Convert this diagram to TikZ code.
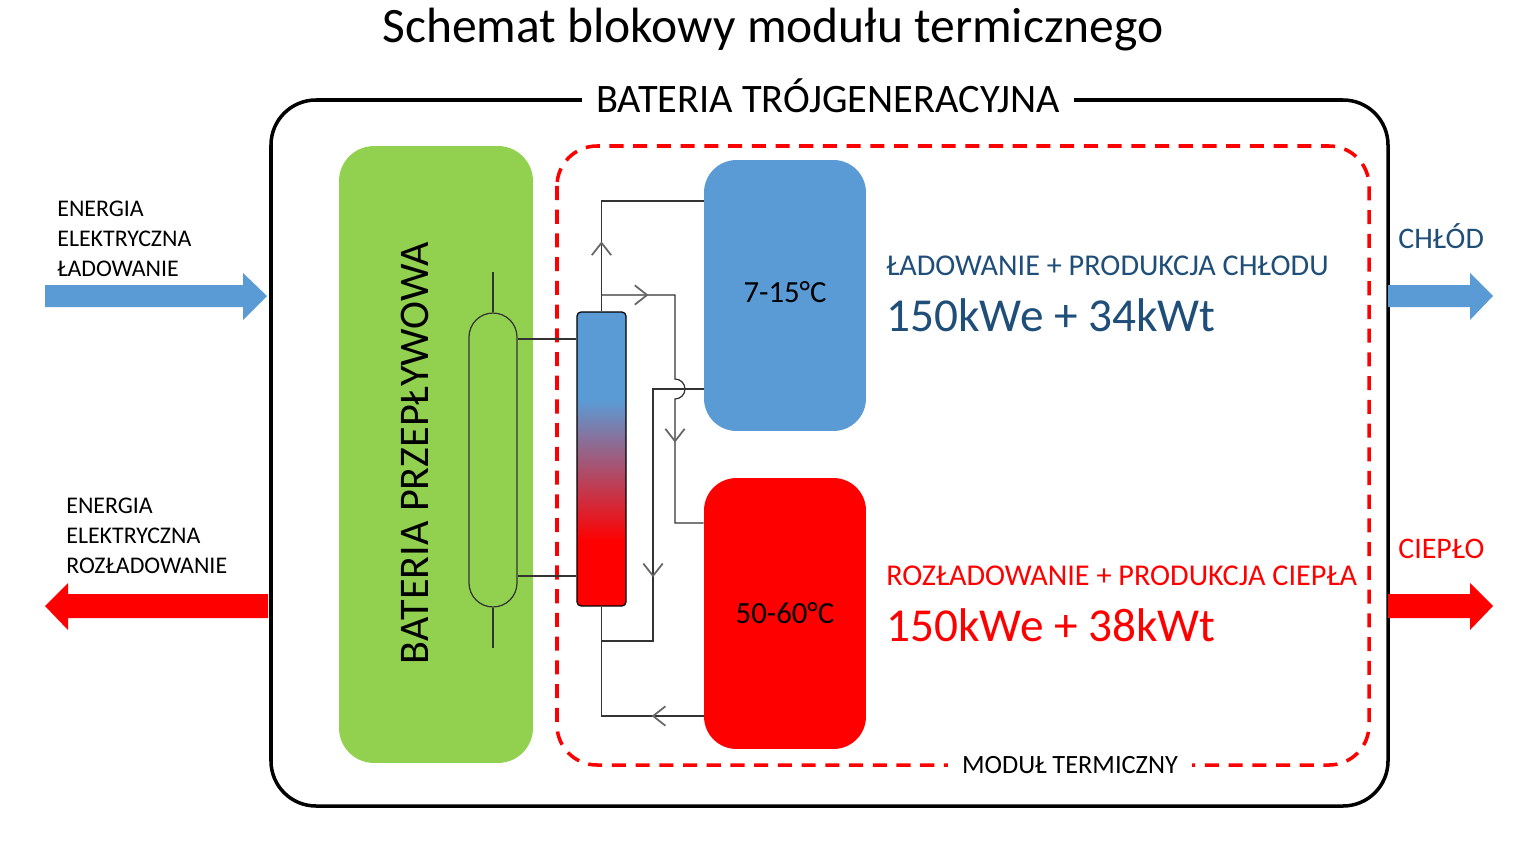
\documentclass[tikz,border=0pt]{standalone}
\usepackage{fontspec}
\setmainfont{Carlito}
\usetikzlibrary{arrows.meta,decorations.markings}

\definecolor{coldblue}{HTML}{5B9BD5}
\definecolor{hotred}{HTML}{FF0000}
\definecolor{flowgreen}{HTML}{92D050}
\definecolor{textblue}{HTML}{1F4E79}

\pgfdeclareverticalshading{hxshade}{100bp}{color(0bp)=(hotred); color(36bp)=(hotred); color(60bp)=(coldblue); color(100bp)=(coldblue)}

\tikzset{
  tank/.style={fill=#1, rounded corners=0.65cm, minimum width=3.24cm, minimum height=5.42cm, font=\fontsize{17.5}{20}\selectfont},
  pipe/.style={draw=black!80, line width=0.7pt},
  flow/.style={postaction={decorate, decoration={markings, mark=at position #1 with {\arrow[black!60, line width=1pt]{Straight Barb[length=7pt,width=11pt]}}}}},
  caption/.style={anchor=base west, inner sep=0pt},
}

\begin{document}
\begin{tikzpicture}[x=0.02cm, y=-0.02cm]
\useasboundingbox (0,0) rectangle (1535,845);

% Title
\node[anchor=base] (title) at (773,42) {\fontsize{28.2}{32}\selectfont Schemat blokowy modułu termicznego};

% Outer frame
\draw[line width=2pt, rounded corners=0.9cm] (271,100) rectangle (1388,806);
\node[anchor=base, fill=white, inner xsep=8pt, font=\fontsize{23}{27}\selectfont] (trigen) at (828,112) {BATERIA TRÓJGENERACYJNA};

% Thermal module
\draw[hotred, line width=2pt, dash pattern=on 8pt off 5.5pt, rounded corners=0.8cm] (557,146) rectangle (1369,765);
\node[fill=white, inner xsep=8pt, font=\fontsize{15}{18}\selectfont] (modul) at (1070,765) {MODUŁ TERMICZNY};

% Flow battery
\node[fill=flowgreen, rounded corners=0.7cm, minimum width=3.88cm, minimum height=12.34cm] (flowbat) at (436,454.5) {};
\node[rotate=90, font=\fontsize{24}{28}\selectfont] (flowlabel) at (415,453) {BATERIA PRZEPŁYWOWA};

% Cell stack
\node[draw=black!80, line width=0.7pt, rounded corners=0.48cm, minimum width=0.96cm, minimum height=5.88cm] (cell) at (493,460) {};
\draw[pipe] (cell.north) -- ++(0,-40);
\draw[pipe] (cell.south) -- ++(0,40);

% Heat exchanger
\node[draw=black, line width=0.7pt, rounded corners=0.08cm, shading=hxshade, minimum width=0.98cm, minimum height=5.88cm] (hx) at (601.5,459) {};
\draw[pipe] (cell.east |- 0,339) -- (hx.west |- 0,339);
\draw[pipe] (cell.east |- 0,576) -- (hx.west |- 0,576);

% Tanks
\node[tank=coldblue] (cold) at (785,295.5) {\raisebox{4pt}{7-15°C}};
\node[tank=hotred] (hot) at (785,613.5) {50-60°C};

% Pipes
\coordinate (tee) at (hx.north |- 0,295);
\draw[pipe, flow=1.4cm] (hx.north) |- (cold.west |- 0,201);
\draw[pipe, flow=0.94cm, flow=4.65cm] (tee) -- (675,295) -- (675,379) arc[start angle=90, end angle=-90, radius=0.2cm] -- (675,523) -- (hot.west |- 0,523);
\draw[pipe, flow=4.78cm] (cold.west |- 0,389) -- (653,389) -- (653,641) -- (hx.south |- 0,641);
\draw[pipe, flow=1.04cm] (hot.west |- 0,716) -| (hx.south);

% Operating modes
\node[caption, text=textblue, font=\fontsize{17.2}{20}\selectfont] (coldmode) at (886,275) {ŁADOWANIE + PRODUKCJA CHŁODU};
\node[caption, text=textblue, font=\fontsize{26.9}{31}\selectfont] (coldpower) at (886,331) {150kWe + 34kWt};
\node[caption, text=hotred, font=\fontsize{17.2}{20}\selectfont] (hotmode) at (886,585) {ROZŁADOWANIE + PRODUKCJA CIEPŁA};
\node[caption, text=hotred, font=\fontsize{26.9}{31}\selectfont] (hotpower) at (886,641) {150kWe + 38kWt};

% Outputs
\node[caption, text=textblue, font=\fontsize{17}{20}\selectfont] (coldout) at (1398,248) {CHŁÓD};
\node[caption, text=hotred, font=\fontsize{17}{20}\selectfont] (hotout) at (1398,558) {CIEPŁO};
\fill[coldblue] (1388,285) -- (1470,285) -- (1470,273) -- (1493,296) -- (1470,320) -- (1470,307) -- (1388,307) -- cycle;
\fill[hotred] (1388,594) -- (1470,594) -- (1470,583) -- (1493,606) -- (1470,630) -- (1470,618) -- (1388,618) -- cycle;

% Inputs
\node[anchor=north west, align=left, inner sep=0pt, font=\fontsize{13.6}{17}\selectfont] (inlabel) at (57,201) {ENERGIA\\ELEKTRYCZNA\\ŁADOWANIE};
\node[anchor=north west, align=left, inner sep=0pt, font=\fontsize{13.6}{17}\selectfont] (outlabel) at (66,498) {ENERGIA\\ELEKTRYCZNA\\ROZŁADOWANIE};
\fill[coldblue] (45,285) -- (243,285) -- (243,273) -- (267,296) -- (243,320) -- (243,307) -- (45,307) -- cycle;
\fill[hotred] (268,594) -- (68,594) -- (68,583) -- (45,606) -- (68,630) -- (68,618) -- (268,618) -- cycle;

\end{tikzpicture}
\end{document}
